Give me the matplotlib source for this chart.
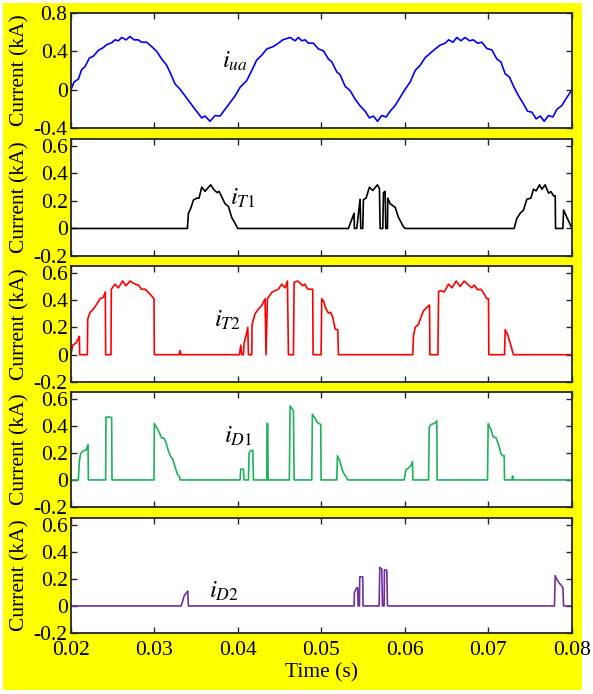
import numpy as np
import matplotlib.pyplot as plt
from matplotlib.patches import Rectangle

plt.rcParams['font.family'] = 'Liberation Serif'
plt.rcParams['mathtext.fontset'] = 'stix'

# phase current i_ua
t_ua = [0.02000, 0.02036, 0.02088, 0.02128, 0.02168, 0.02220, 0.02268, 0.02328,
        0.02388, 0.02428, 0.02488, 0.02527, 0.02567, 0.02607, 0.02659, 0.02707,
        0.02755, 0.02806, 0.02846, 0.02906, 0.02966, 0.03026, 0.03086, 0.03146,
        0.03194, 0.03246, 0.03306, 0.03366, 0.03426, 0.03486, 0.03566, 0.03605,
        0.03665, 0.03725, 0.03785, 0.03845, 0.03905, 0.03965, 0.04025, 0.04105,
        0.04165, 0.04225, 0.04285, 0.04345, 0.04424, 0.04484, 0.04536, 0.04624,
        0.04684, 0.04724, 0.04764, 0.04803, 0.04843, 0.04903, 0.04963, 0.05023,
        0.05083, 0.05123, 0.05183, 0.05223, 0.05283, 0.05343, 0.05403, 0.05463,
        0.05523, 0.05574, 0.05622, 0.05670, 0.05722, 0.05774, 0.05822, 0.05882,
        0.05942, 0.06002, 0.06062, 0.06122, 0.06182, 0.06242, 0.06302, 0.06362,
        0.06422, 0.06482, 0.06522, 0.06574, 0.06622, 0.06670, 0.06720, 0.06772,
        0.06820, 0.06868, 0.06920, 0.06980, 0.07040, 0.07100, 0.07148, 0.07200,
        0.07252, 0.07300, 0.07360, 0.07420, 0.07468, 0.07520, 0.07571, 0.07619,
        0.07667, 0.07719, 0.07771, 0.07819, 0.07879, 0.07939, 0.08000]
i_ua = [0.0, 0.08, 0.11, 0.21, 0.24, 0.33, 0.35, 0.41,
        0.44, 0.47, 0.49, 0.52, 0.51, 0.545, 0.52, 0.555,
        0.52, 0.52, 0.495, 0.495, 0.45, 0.40, 0.32, 0.255,
        0.165, 0.06, 0.005, -0.065, -0.135, -0.205, -0.295, -0.275,
        -0.33, -0.27, -0.275, -0.205, -0.135, -0.065, 0.025, 0.095,
        0.20, 0.31, 0.36, 0.425, 0.45, 0.485, 0.52, 0.545,
        0.51, 0.545, 0.51, 0.52, 0.485, 0.485, 0.425, 0.405,
        0.32, 0.29, 0.185, 0.155, 0.035, -0.01, -0.10, -0.17,
        -0.225, -0.295, -0.275, -0.33, -0.27, -0.285, -0.225, -0.165,
        -0.08, 0.005, 0.08, 0.20, 0.255, 0.335, 0.38, 0.425,
        0.465, 0.485, 0.52, 0.495, 0.545, 0.51, 0.545, 0.51,
        0.52, 0.485, 0.495, 0.43, 0.415, 0.32, 0.29, 0.165,
        0.13, 0.035, -0.065, -0.15, -0.225, -0.235, -0.305, -0.275,
        -0.33, -0.27, -0.285, -0.205, -0.165, -0.08, 0.0]

# switch T1
t_T1 = [0.02, 0.03394, 0.03406, 0.03434, 0.03466, 0.03506, 0.03533, 0.03566,
        0.03605, 0.03633, 0.03673, 0.03713, 0.03753, 0.03773, 0.03805, 0.03845,
        0.03885, 0.03925, 0.03965, 0.03997,
        0.05322, 0.05390, 0.05394, 0.05422, 0.05462, 0.05470, 0.05494, 0.05502,
        0.05534, 0.05574, 0.05614, 0.05670, 0.05694, 0.05702, 0.05734, 0.05742,
        0.05762, 0.05770, 0.05790, 0.05794, 0.05822, 0.05882, 0.05922, 0.05982,
        0.06002,
        0.07307, 0.07339, 0.07379, 0.07419, 0.07459, 0.07507, 0.07539, 0.07571,
        0.07611, 0.07639, 0.07679, 0.07719, 0.07747, 0.07779, 0.07799, 0.07803,
        0.07891, 0.07899, 0.07939, 0.08]
i_T1 = [0, 0, 0.11, 0.146, 0.207, 0.22, 0.22, 0.30,
        0.27, 0.29, 0.317, 0.28, 0.26, 0.27, 0.23, 0.18,
        0.16, 0.08, 0.037, 0,
        0, 0.11, 0, 0, 0.212, 0, 0, 0.21,
        0.22, 0.30, 0.276, 0.317, 0.29, 0, 0, 0.26,
        0.27, 0, 0, 0.22, 0.18, 0.154, 0.08, 0.012,
        0,
        0, 0.073, 0.11, 0.134, 0.212, 0.22, 0.285, 0.273,
        0.317, 0.285, 0.317, 0.256, 0.268, 0.237, 0.237, 0,
        0, 0.134, 0.08, 0.0]

# switch T2
t_T2 = [0.02, 0.02020, 0.02060, 0.02088, 0.02100, 0.02104, 0.02196, 0.02200,
        0.02228, 0.02268, 0.02308, 0.02347, 0.02387, 0.02411, 0.02415, 0.02479,
        0.02483, 0.02527, 0.02567, 0.02619, 0.02659, 0.02707, 0.02767, 0.02806,
        0.02846, 0.02887, 0.02946, 0.02994, 0.02998, 0.03294, 0.03306, 0.03318,
        0.04017, 0.04033, 0.04045, 0.04065, 0.04073, 0.04097, 0.04117, 0.04125,
        0.04165, 0.04168, 0.04204, 0.04244, 0.04284, 0.04324, 0.04336, 0.04352,
        0.04364, 0.04404, 0.04444, 0.04484, 0.04524, 0.04564, 0.04592, 0.04604,
        0.04664, 0.04672, 0.04712, 0.04743, 0.04776, 0.04803, 0.04823, 0.04843,
        0.04895, 0.04899, 0.04995, 0.05003, 0.05023, 0.05055, 0.05083, 0.05111,
        0.05135, 0.05163, 0.05195, 0.05203, 0.06092, 0.06102, 0.06122, 0.06162,
        0.06190, 0.06222, 0.06262, 0.06294, 0.06298, 0.06394, 0.06402, 0.06422,
        0.06470, 0.06522, 0.06562, 0.06613, 0.06661, 0.06709, 0.06761, 0.06801,
        0.06829, 0.06869, 0.06909, 0.06949, 0.06980, 0.07000, 0.07004, 0.07192,
        0.07200, 0.07228, 0.07260, 0.07280, 0.07300, 0.08]
i_T2 = [0, 0.07, 0.085, 0.12, 0.134, 0, 0, 0.26,
        0.31, 0.334, 0.37, 0.41, 0.42, 0.46, 0, 0,
        0.48, 0.517, 0.49, 0.54, 0.505, 0.54, 0.517, 0.51,
        0.48, 0.48, 0.444, 0.41, 0, 0, 0.03, 0,
        0, 0.07, 0, 0, 0.085, 0.14, 0.2, 0,
        0, 0.22, 0.30, 0.334, 0.36, 0.41, 0, 0.41,
        0.42, 0.456, 0.47, 0.48, 0.517, 0.49, 0.54, 0,
        0, 0.53, 0.54, 0.525, 0.505, 0.517, 0.49, 0.48,
        0.48, 0, 0, 0.41, 0.395, 0.334, 0.305, 0.31,
        0.273, 0.188, 0.183, 0, 0, 0.14, 0.2, 0.224,
        0.273, 0.322, 0.347, 0.364, 0, 0, 0.46, 0.47,
        0.46, 0.517, 0.49, 0.54, 0.50, 0.54, 0.51, 0.49,
        0.51, 0.476, 0.48, 0.444, 0.41, 0.41, 0, 0,
        0.183, 0.15, 0.085, 0.04, 0, 0]

# diode D1
t_D1 = [0.02, 0.02088, 0.02100, 0.02116, 0.02148, 0.02180, 0.02196, 0.02204,
        0.02208, 0.02415, 0.02419, 0.02467, 0.02487, 0.02491, 0.02994, 0.02998,
        0.03026, 0.03058, 0.03086, 0.03114, 0.03138, 0.03166, 0.03194, 0.03218,
        0.03246, 0.03274, 0.03298, 0.03306, 0.04025, 0.04033, 0.04065, 0.04073,
        0.04125, 0.04133, 0.04153, 0.04177, 0.04185, 0.04345, 0.04347, 0.04357,
        0.04360, 0.04615, 0.04624, 0.04643, 0.04664, 0.04672, 0.04883, 0.04891,
        0.04923, 0.04951, 0.04991, 0.04995, 0.05183, 0.05191, 0.05219, 0.05251,
        0.05271, 0.05299, 0.05311, 0.05990, 0.06010, 0.06042, 0.06070, 0.06090,
        0.06094, 0.06282, 0.06290, 0.06310, 0.06349, 0.06381, 0.06385, 0.06988,
        0.06996, 0.07028, 0.07056, 0.07088, 0.07120, 0.07148, 0.07168, 0.07188,
        0.07192, 0.07280, 0.07288, 0.07300, 0.08]
i_D1 = [0, 0, 0.14, 0.196, 0.216, 0.22, 0.25, 0.26,
        0, 0, 0.465, 0.465, 0.46, 0, 0, 0.417,
        0.387, 0.35, 0.309, 0.309, 0.277, 0.216, 0.172, 0.154,
        0.098, 0.044, 0.025, 0, 0, 0.08, 0.08, 0,
        0, 0.2, 0.216, 0.22, 0, 0, 0.417, 0.417,
        0, 0, 0.546, 0.53, 0.51, 0, 0, 0.485,
        0.456, 0.424, 0.41, 0, 0, 0.179, 0.142, 0.069,
        0.044, 0.02, 0, 0, 0.073, 0.088, 0.105, 0.137,
        0, 0, 0.387, 0.41, 0.417, 0.436, 0, 0,
        0.417, 0.375, 0.318, 0.313, 0.264, 0.196, 0.179, 0.179,
        0, 0, 0.03, 0, 0]

# diode D2
t_D2 = [0.02, 0.03318, 0.03338, 0.03354, 0.03386, 0.03398, 0.03406, 0.05390,
        0.05394, 0.05422, 0.05434, 0.05438, 0.05454, 0.05458, 0.05494, 0.05498,
        0.05690, 0.05698, 0.05722, 0.05730, 0.05750, 0.05754, 0.05782, 0.05790,
        0.07790, 0.07799, 0.07819, 0.07851, 0.07879, 0.07891, 0.07899, 0.08]
i_D2 = [0, 0, 0.037, 0.073, 0.10, 0.11, 0, 0,
        0.10, 0.134, 0.134, 0, 0, 0.215, 0.215, 0,
        0, 0.285, 0.273, 0, 0, 0.268, 0.264, 0,
        0, 0.224, 0.195, 0.166, 0.146, 0.134, 0, 0]

panels = [
    (t_ua, i_ua, '#0000FF', r'$i_{ua}$', (0.0396, 0.30)),
    (t_T1, i_T1, 'black', r'$i_{T\mathrm{1}}$', (0.0406, 0.22)),
    (t_T2, i_T2, '#FF0000', r'$i_{T\mathrm{2}}$', (0.0388, 0.25)),
    (t_D1, i_D1, '#1DB35A', r'$i_{D\mathrm{1}}$', (0.0400, 0.32)),
    (t_D2, i_D2, '#7030A0', r'$i_{D\mathrm{2}}$', (0.0383, 0.11)),
]

W, H = 593, 694
rows = [(13, 128), (139, 256), (266, 382), (392, 507), (518, 633)]

fig = plt.figure(figsize=(W / 100, H / 100), dpi=100, facecolor='white')
fig.patches.append(Rectangle((3 / W, 4 / H), 579 / W, 687 / H,
                             transform=fig.transFigure, facecolor='#FFFF00',
                             edgecolor='none', zorder=-1))

for k, ((t, y, col, lab, pos), (top, bot)) in enumerate(zip(panels, rows)):
    ax = fig.add_axes([71 / W, 1 - bot / H, 501 / W, (bot - top) / H])
    ax.plot(t, y, color=col, lw=1.2)
    ax.set_xlim(0.02, 0.08)
    ax.set_xticks(np.arange(0.02, 0.081, 0.01))
    if k == 0:
        ax.set_ylim(-0.4, 0.8)
        ax.set_yticks([-0.4, 0, 0.4, 0.8])
        ax.set_yticklabels(['-0.4', '0', '0.4', '0.8'])
    else:
        ax.set_ylim(-0.2, 0.65)
        ax.set_yticks([-0.2, 0, 0.2, 0.4, 0.6])
        ax.set_yticklabels(['-0.2', '0', '0.2', '0.4', '0.6'])
    if k == 4:
        ax.set_xticklabels(['0.02', '0.03', '0.04', '0.05', '0.06', '0.07', '0.08'])
        ax.set_xlabel('Time (s)', fontsize=15.5, labelpad=2)
    else:
        ax.set_xticklabels([])
    ax.tick_params(direction='in', top=True, right=True, length=4, width=1,
                   labelsize=15.5, pad=2.5, color='#262626')
    ax.tick_params(axis='x', pad=6)
    for s in ax.spines.values():
        s.set_color('#262626')
        s.set_linewidth(1.3)
    ax.set_ylabel('Current (kA)', fontsize=15.5)
    ax.yaxis.set_label_coords(-0.102, 0.5)
    ax.yaxis.label.set_va('center')
    ax.text(pos[0], pos[1], lab, fontsize=18, ha='center', va='center')

fig.savefig('out.png', dpi=100, facecolor='white')
